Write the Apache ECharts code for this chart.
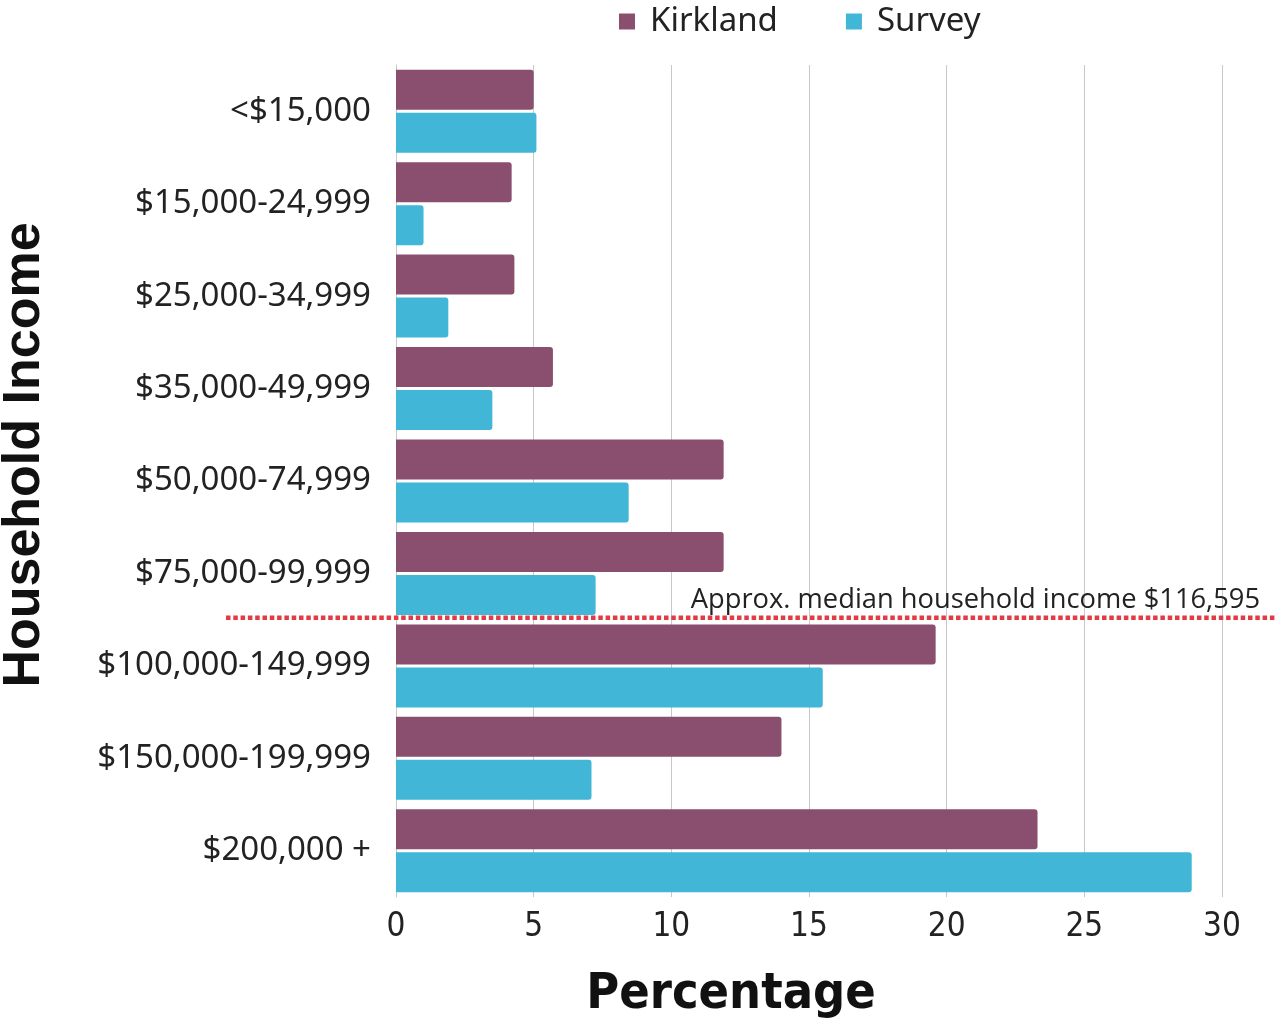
<!DOCTYPE html>
<html>
<head>
<meta charset="utf-8">
<script src="https://cdn.jsdelivr.net/npm/echarts@6/dist/echarts.min.js"></script>
<style>
  html, body { margin: 0; padding: 0; background: #ffffff; }
  #chart { width: 1277px; height: 1024px; }
</style>
</head>
<body>
<div id="chart"></div>
<script>
// Household income brackets, top to bottom
const categories = [
  '<$15,000', '$15,000-24,999', '$25,000-34,999', '$35,000-49,999',
  '$50,000-74,999', '$75,000-99,999', '$100,000-149,999',
  '$150,000-199,999', '$200,000 +'
];
// Share of households in each bracket (%)
const kirkland = [5.0, 4.2, 4.3, 5.7, 11.9, 11.9, 19.6, 14.0, 23.3];
const survey = [5.1, 1.0, 1.9, 3.5, 8.45, 7.25, 15.5, 7.1, 28.9];
const xTicks = [0, 5, 10, 15, 20, 25, 30];
// Median line sits between these two brackets
const medianBetween = ['$75,000-99,999', '$100,000-149,999'];
const medianLabel = 'Approx. median household income $116,595';
const xTitle = 'Percentage';
const yTitle = 'Household Income';

const KIRK = '#8A4F6E';
const SURV = '#41B6D6';
const LABEL_FONT = '"Noto Sans", "Open Sans", sans-serif';
const CONDENSED = '"DejaVu Sans Condensed", "Liberation Sans Narrow", sans-serif';

const chart = echarts.init(document.getElementById('chart'), null, { renderer: 'canvas' });

const option = {
  animation: false,
  backgroundColor: '#ffffff',
  legend: {
    top: 0,
    left: 614,
    itemWidth: 16,
    itemHeight: 16,
    itemGap: 68,
    icon: 'rect',
    textStyle: {
      fontFamily: LABEL_FONT,
      fontSize: 33,
      color: '#222222',
      padding: [0, 0, 0, 10]
    },
    data: ['Kirkland', 'Survey']
  },
  grid: {
    left: 396, right: 55, top: 65, bottom: 127,
    containLabel: false,
    outerBoundsMode: 'none'
  },
  xAxis: {
    type: 'value',
    min: xTicks[0],
    max: xTicks[xTicks.length - 1],
    interval: 5,
    axisLine: { show: false },
    axisTick: { show: false },
    axisLabel: {
      fontFamily: CONDENSED,
      fontSize: 33,
      color: '#222222',
      margin: 14
    },
    splitLine: { show: true, lineStyle: { color: '#c8c8c8', width: 1 } }
  },
  yAxis: {
    type: 'category',
    data: categories,
    inverse: true,
    axisLine: { show: true, lineStyle: { color: '#c8c8c8', width: 1 } },
    axisTick: { show: false },
    axisLabel: {
      fontFamily: LABEL_FONT,
      fontSize: 33,
      color: '#222222',
      margin: 25
    }
  },
  series: [
    {
      name: 'Kirkland',
      type: 'bar',
      data: kirkland,
      barWidth: 40,
      barGap: '7.5%',
      itemStyle: { color: KIRK, borderRadius: [0, 3, 3, 0] }
    },
    {
      name: 'Survey',
      type: 'bar',
      data: survey,
      barWidth: 40,
      barGap: '7.5%',
      itemStyle: { color: SURV, borderRadius: [0, 3, 3, 0] }
    }
  ]
};

chart.setOption(option);

// Axis titles and the dotted median marker on the boundary between two brackets
function drawOverlays() {
  const y0 = chart.convertToPixel({ yAxisIndex: 0 }, medianBetween[0]);
  const y1 = chart.convertToPixel({ yAxisIndex: 0 }, medianBetween[1]);
  const y = (y0 + y1) / 2 - 2;
  chart.setOption({
    graphic: [
      {
        type: 'line',
        z: 100,
        shape: { x1: 226, y1: y, x2: 1277, y2: y },
        style: { stroke: '#E23B45', lineWidth: 4.5, lineDash: [4.5, 2.8] }
      },
      {
        type: 'text',
        z: 100,
        x: 1260,
        y: y - 4,
        style: {
          text: medianLabel,
          fontFamily: '"Open Sans", Roboto, sans-serif',
          fontSize: 27.3,
          fill: '#222222',
          align: 'right',
          verticalAlign: 'bottom'
        }
      },
      {
        type: 'text',
        x: 731,
        y: 995,
        style: {
          text: xTitle,
          fontFamily: CONDENSED,
          fontWeight: 'bold',
          fontSize: 50,
          fill: '#111111',
          align: 'center',
          verticalAlign: 'middle'
        }
      },
      {
        type: 'text',
        x: 25,
        y: 455,
        rotation: Math.PI / 2,
        style: {
          text: yTitle,
          fontFamily: '"Liberation Sans", Arial, sans-serif',
          fontWeight: 'bold',
          fontSize: 52,
          fill: '#111111',
          align: 'center',
          verticalAlign: 'middle'
        }
      }
    ]
  });
}
drawOverlays();
</script>
</body>
</html>
